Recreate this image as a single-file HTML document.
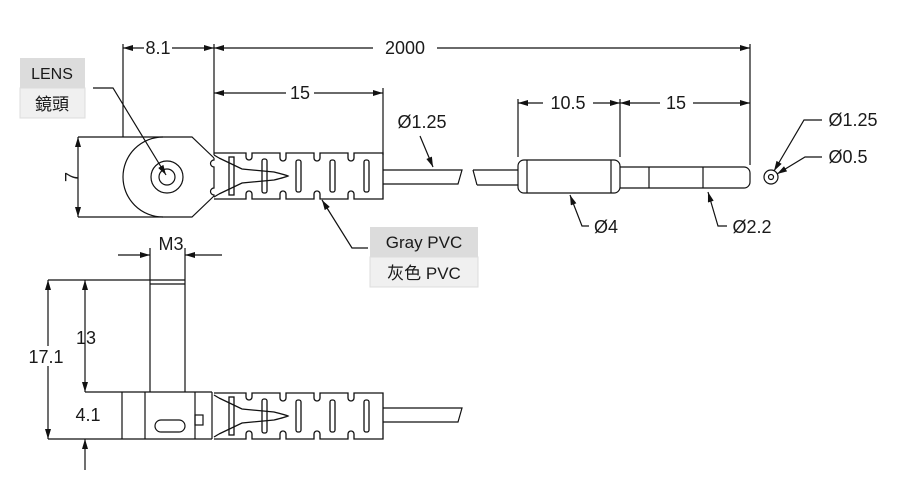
<!DOCTYPE html>
<html><head><meta charset="utf-8"><style>
html,body{margin:0;padding:0;background:#fff}
svg{display:block}
text{font-family:"Liberation Sans","Noto Sans CJK TC",sans-serif;fill:#1a1a1a}
</style></head><body>
<svg width="900" height="491" viewBox="0 0 900 491" xmlns="http://www.w3.org/2000/svg">
<defs>
<marker id="a" viewBox="0 0 10 6" refX="10" refY="3" markerWidth="12" markerHeight="6" orient="auto-start-reverse" markerUnits="userSpaceOnUse"><path d="M0,0 L10,3 L0,6 z" fill="#111"/></marker>
<g id="boot" fill="none" stroke="#111" stroke-width="1.3">
<path d="M0,0 H32 V4 a3,3 0 0 0 6,0 V0 H66 V5 a3,3 0 0 0 6,0 V0 H100 V5 a3,3 0 0 0 6,0 V0 H134 V5 a3,3 0 0 0 6,0 V0 H169 V46 H140 V41 a3,3 0 0 0 -6,0 V46 H106 V41 a3,3 0 0 0 -6,0 V46 H72 V41 a3,3 0 0 0 -6,0 V46 H38 V41 a3,3 0 0 0 -6,0 V46 H0"/>
<rect x="15" y="4" width="5" height="38"/>
<rect x="48" y="6" width="5" height="34" rx="2"/>
<rect x="82" y="7" width="5" height="32" rx="2"/>
<rect x="116" y="7" width="5" height="32" rx="2"/>
<rect x="150" y="7" width="5" height="32" rx="2"/>
<path d="M5,5 L28,16 L60,19 Q72,22 74,23 Q72,24 60,27 L28,30 L5,41"/>
<path d="M5,5 L0,2 M5,41 L0,44"/>
</g>
</defs>
<g stroke="#111" stroke-width="1.2" fill="none">
<line x1="123" y1="44" x2="123" y2="137"/>
<line x1="214" y1="44" x2="214" y2="155"/>
<line x1="750" y1="44" x2="750" y2="165"/>
<line x1="383" y1="88" x2="383" y2="155"/>
<line x1="123" y1="48" x2="144" y2="48" marker-start="url(#a)"/>
<line x1="172" y1="48" x2="214" y2="48" marker-end="url(#a)"/>
<line x1="214" y1="48" x2="373" y2="48" marker-start="url(#a)"/>
<line x1="437" y1="48" x2="750" y2="48" marker-end="url(#a)"/>
<line x1="214" y1="93" x2="286" y2="93" marker-start="url(#a)"/>
<line x1="314" y1="93" x2="383" y2="93" marker-end="url(#a)"/>
<path d="M93,88 H113 L166,175" marker-end="url(#a)"/>
<path d="M78,137 H192 L214,158 M78,217 H192 L214,196"/>
<path d="M163,137 A40,40 0 0 0 163,217"/>
<circle cx="167" cy="177" r="16"/><circle cx="167" cy="177" r="8"/>
<path d="M214,158 V160 a3.5,3.5 0 1 0 0,7 V188 a3.5,3.5 0 1 0 0,7 V196"/>
<line x1="78" y1="137" x2="78" y2="217" marker-start="url(#a)" marker-end="url(#a)"/>
<use href="#boot" x="214" y="153"/>
<path d="M383,170 H462 L458,184 H383"/>
<path d="M420,136 L433,167" marker-end="url(#a)"/>
<path d="M368,248 H352 L322,200" marker-end="url(#a)"/>
<path d="M473,170 H518 M477,185 H518 M473,170 L477,185"/>
<rect x="518" y="160" width="102" height="33" rx="6"/>
<line x1="527" y1="160" x2="527" y2="193"/><line x1="611" y1="160" x2="611" y2="193"/>
<path d="M620,167 H744 a6,6 0 0 1 6,6 V182 a6,6 0 0 1 -6,6 H620"/>
<line x1="649" y1="167" x2="649" y2="188"/><line x1="703" y1="167" x2="703" y2="188"/>
<line x1="518" y1="99" x2="518" y2="157"/><line x1="620" y1="99" x2="620" y2="157"/>
<line x1="518" y1="103" x2="543" y2="103" marker-start="url(#a)"/>
<line x1="593" y1="103" x2="620" y2="103" marker-end="url(#a)"/>
<line x1="620" y1="103" x2="660" y2="103" marker-start="url(#a)"/>
<line x1="693" y1="103" x2="750" y2="103" marker-end="url(#a)"/>
<path d="M589,226 H582 L570,195" marker-end="url(#a)"/>
<path d="M727,226 H718 L708,192" marker-end="url(#a)"/>
<circle cx="771" cy="177" r="7"/><circle cx="771" cy="177" r="2.5"/>
<path d="M822,120 H804 L774,171" marker-end="url(#a)"/>
<path d="M822,157 H805 L777,174" marker-end="url(#a)"/>
<line x1="150" y1="248" x2="150" y2="392"/><line x1="185" y1="248" x2="185" y2="392"/>
<line x1="118" y1="255" x2="150" y2="255" marker-end="url(#a)"/>
<line x1="222" y1="255" x2="185" y2="255" marker-end="url(#a)"/>
<line x1="150" y1="284" x2="185" y2="284"/>
<line x1="48" y1="280" x2="185" y2="280"/>
<line x1="85" y1="392" x2="212" y2="392"/>
<line x1="48" y1="439" x2="212" y2="439"/>
<line x1="48" y1="280" x2="48" y2="439" marker-start="url(#a)" marker-end="url(#a)"/>
<line x1="85" y1="280" x2="85" y2="392" marker-start="url(#a)" marker-end="url(#a)"/>
<line x1="85" y1="470" x2="85" y2="439" marker-end="url(#a)"/>
<line x1="122" y1="392" x2="122" y2="439"/>
<line x1="145" y1="392" x2="145" y2="439"/>
<line x1="195" y1="392" x2="195" y2="439"/>
<line x1="212" y1="392" x2="212" y2="439"/>
<rect x="155" y="420" width="30" height="12" rx="6"/>
<rect x="195" y="415" width="8" height="10"/>
<use href="#boot" x="214" y="393"/>
<path d="M383,408 H462 L458,422 H383"/>
</g>
<rect x="20" y="58" width="65" height="30" fill="#dcdcdc"/>
<rect x="20" y="88" width="65" height="30" fill="#f0f0f0" stroke="#ddd"/>
<text x="52" y="79" font-size="16" text-anchor="middle">LENS</text>
<text x="52" y="110" font-size="17" text-anchor="middle">鏡頭</text>
<rect x="370" y="227" width="108" height="30" fill="#dcdcdc"/>
<rect x="370" y="257" width="108" height="30" fill="#f0f0f0" stroke="#ddd"/>
<text x="424" y="248" font-size="17" text-anchor="middle">Gray PVC</text>
<text x="424" y="279" font-size="17" text-anchor="middle">灰色 PVC</text>
<g font-size="18" text-anchor="middle">
<text x="158" y="54">8.1</text>
<text x="405" y="54">2000</text>
<text x="300" y="99">15</text>
<text x="422" y="128">Ø1.25</text>
<text x="72" y="177" transform="rotate(-90 72 177)" dy="6">7</text>
<text x="568" y="109">10.5</text>
<text x="676" y="109">15</text>
<text x="606" y="233">Ø4</text>
<text x="752" y="233">Ø2.2</text>
<text x="853" y="126">Ø1.25</text>
<text x="848" y="163">Ø0.5</text>
<text x="171" y="250">M3</text>
<rect x="26" y="346" width="42" height="20" fill="#fff"/>
<text x="46" y="363">17.1</text>
<text x="86" y="344">13</text>
<text x="88" y="421">4.1</text>
</g>
</svg>
</body></html>
